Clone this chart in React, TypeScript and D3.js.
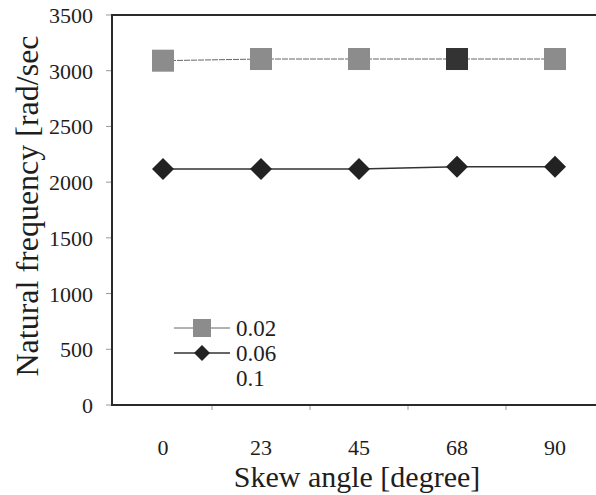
import { useRef, useEffect } from "react";
import * as d3 from "d3";

const SKEW_ANGLES = ["0", "23", "45", "68", "90"];
const FREQ_002 = [3090, 3105, 3105, 3105, 3105];
const FREQ_006 = [2118, 2118, 2118, 2138, 2138];
const Y_TICKS = [0, 500, 1000, 1500, 2000, 2500, 3000, 3500];
const LEGEND_LABELS = ["0.02", "0.06", "0.1"];

const W = 596;
const H = 495;
const FONT = "'Liberation Serif', 'DejaVu Serif', serif";

export default function App() {
  const svgRef = useRef<SVGSVGElement | null>(null);

  useEffect(() => {
    const svg = d3.select(svgRef.current);
    svg.selectAll("*").remove();

    const left = 112;
    const top = 15;
    const bottom = 405;

    const x = d3.scaleBand<string>().domain(SKEW_ANGLES).range([114, 604]);
    const y = d3.scaleLinear().domain([0, 3500]).range([bottom, top]);
    const cx = (d: string) => (x(d) || 0) + x.bandwidth() / 2;

    svg.append("rect").attr("width", W).attr("height", H).attr("fill", "#fff");

    // y ticks + labels
    Y_TICKS.forEach((t) => {
      svg.append("line")
        .attr("x1", left - 6).attr("x2", left)
        .attr("y1", y(t)).attr("y2", y(t))
        .attr("stroke", "#999").attr("stroke-width", 1);
      svg.append("text")
        .attr("x", 93).attr("y", y(t) + 8)
        .attr("text-anchor", "end")
        .attr("font-family", FONT).attr("font-size", 22)
        .attr("fill", "#1e1e1e")
        .text(t);
    });

    // x boundary ticks
    SKEW_ANGLES.slice(1).forEach((d) => {
      svg.append("line")
        .attr("x1", x(d)).attr("x2", x(d))
        .attr("y1", bottom).attr("y2", bottom + 5)
        .attr("stroke", "#999").attr("stroke-width", 1);
    });

    // x labels
    SKEW_ANGLES.forEach((d) => {
      svg.append("text")
        .attr("x", cx(d)).attr("y", 455)
        .attr("text-anchor", "middle")
        .attr("font-family", FONT).attr("font-size", 22)
        .attr("fill", "#1e1e1e")
        .text(d);
    });

    // frame (top, left, bottom; right side cropped)
    svg.append("path")
      .attr("d", `M${W + 2},${top}H${left}V${bottom}H${W + 2}`)
      .attr("fill", "none").attr("stroke", "#2a2a2a").attr("stroke-width", 2);

    // axis titles
    svg.append("text")
      .attr("x", 357).attr("y", 487)
      .attr("text-anchor", "middle")
      .attr("font-family", FONT).attr("font-size", 30)
      .attr("fill", "#1e1e1e")
      .text("Skew angle [degree]");
    svg.append("text")
      .attr("transform", `translate(38,206) rotate(-90)`)
      .attr("text-anchor", "middle")
      .attr("font-family", FONT).attr("font-size", 32)
      .attr("fill", "#1e1e1e")
      .text("Natural frequency [rad/sec");

    const line = d3.line<number>()
      .x((_, i) => cx(SKEW_ANGLES[i]))
      .y((v) => y(v));

    // series 0.02 (squares)
    svg.append("path")
      .attr("d", line(FREQ_002))
      .attr("fill", "none").attr("stroke", "#666").attr("stroke-width", 1)
      .attr("stroke-dasharray", "6,1");
    FREQ_002.forEach((v, i) => {
      const s = 22;
      svg.append("rect")
        .attr("x", cx(SKEW_ANGLES[i]) - s / 2).attr("y", y(v) - s / 2)
        .attr("width", s).attr("height", s)
        .attr("fill", SKEW_ANGLES[i] === "68" ? "#333" : "#8c8c8c");
    });

    // series 0.06 (diamonds)
    svg.append("path")
      .attr("d", line(FREQ_006))
      .attr("fill", "none").attr("stroke", "#333").attr("stroke-width", 1.6);
    FREQ_006.forEach((v, i) => {
      const r = 11;
      const px = cx(SKEW_ANGLES[i]);
      const py = y(v);
      svg.append("path")
        .attr("d", `M${px},${py - r}L${px + r},${py}L${px},${py + r}L${px - r},${py}Z`)
        .attr("fill", "#222");
    });

    // legend
    const lx0 = 174;
    const lx1 = 230;
    const lmid = (lx0 + lx1) / 2;
    LEGEND_LABELS.forEach((lab, i) => {
      const ly = 328 + i * 25;
      if (i === 0) {
        svg.append("line")
          .attr("x1", lx0).attr("x2", lx1).attr("y1", ly).attr("y2", ly)
          .attr("stroke", "#666").attr("stroke-width", 1);
        svg.append("rect")
          .attr("x", lmid - 9).attr("y", ly - 9).attr("width", 18).attr("height", 18)
          .attr("fill", "#8c8c8c");
      } else if (i === 1) {
        svg.append("line")
          .attr("x1", lx0).attr("x2", lx1).attr("y1", ly).attr("y2", ly)
          .attr("stroke", "#333").attr("stroke-width", 1.6);
        const r = 8;
        svg.append("path")
          .attr("d", `M${lmid},${ly - r}L${lmid + r},${ly}L${lmid},${ly + r}L${lmid - r},${ly}Z`)
          .attr("fill", "#222");
      }
      svg.append("text")
        .attr("x", 236).attr("y", ly + 8)
        .attr("font-family", FONT).attr("font-size", 23)
        .attr("fill", "#1e1e1e")
        .text(lab);
    });
  }, []);

  return (
    <svg
      ref={svgRef}
      width={W}
      height={H}
      style={{ position: "absolute", left: 0, top: 0 }}
    />
  );
}
